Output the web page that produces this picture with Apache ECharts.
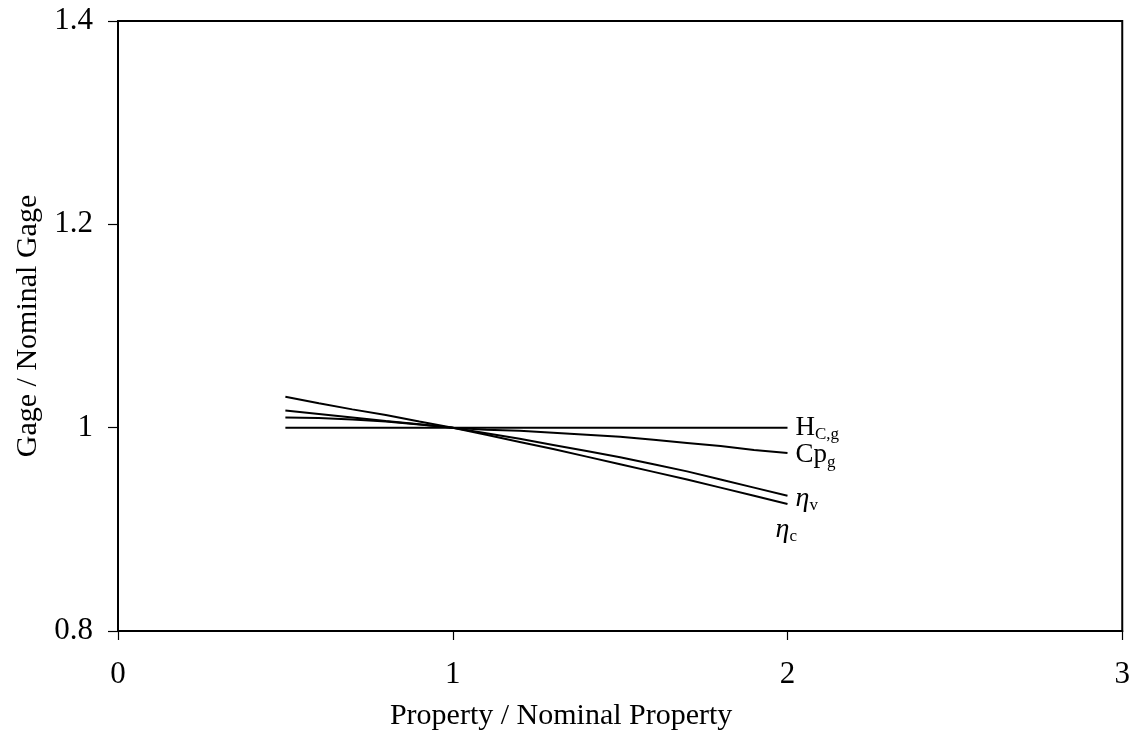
<!DOCTYPE html>
<html>
<head>
<meta charset="utf-8">
<title>Gage / Nominal Gage</title>
<script src="https://cdn.jsdelivr.net/npm/echarts@6/dist/echarts.min.js"></script>
<style>
  html, body { margin: 0; padding: 0; background: #fff; }
  #chart { width: 1133px; height: 744px; }
</style>
</head>
<body>
<div id="chart"></div>
<script>
// Property ratio sampled from 0.5 to 2.0
const propertyRatio = [0.5, 0.6, 0.7, 0.8, 0.9, 1.0, 1.1, 1.2, 1.3, 1.4, 1.5, 1.6, 1.7, 1.8, 1.9, 2.0];

// Gage ratio responses
const hcgRatio  = [1.000, 1.000, 1.000, 1.000, 1.000, 1.000, 1.000, 1.000, 1.000, 1.000, 1.000, 1.000, 1.000, 1.000, 1.000, 1.000];
const cpgRatio  = [1.010, 1.0095, 1.008, 1.006, 1.003, 1.000, 0.998, 0.997, 0.995, 0.993, 0.991, 0.988, 0.985, 0.982, 0.978, 0.975];
const etaVRatio = [1.017, 1.0135, 1.010, 1.0065, 1.0033, 1.000, 0.9945, 0.989, 0.983, 0.977, 0.971, 0.964, 0.957, 0.949, 0.941, 0.933];
const etaCRatio = [1.0305, 1.024, 1.018, 1.0125, 1.006, 1.000, 0.993, 0.986, 0.979, 0.9715, 0.964, 0.9565, 0.949, 0.941, 0.933, 0.925];

const xTicks = [0, 1, 2, 3];
const yTicks = [0.8, 1.0, 1.2, 1.4];

const FONT = '"Liberation Serif", "DejaVu Serif", serif';

function pairs(ys) {
  return propertyRatio.map((x, i) => [x, ys[i]]);
}

const labelRich = {
  main: { fontFamily: FONT, fontSize: 27, color: '#000' },
  it:   { fontFamily: FONT, fontSize: 28, color: '#000', fontStyle: 'italic' },
  sub:  { fontFamily: FONT, fontSize: 17, color: '#000', padding: [14, 0, 0, 0] }
};

function lineSeries(name, ys, labelText, offset) {
  return {
    name: name,
    type: 'line',
    data: pairs(ys),
    showSymbol: false,
    symbol: 'none',
    lineStyle: { color: '#000', width: 2 },
    silent: true,
    animation: false,
    endLabel: {
      show: true,
      formatter: () => labelText,
      rich: labelRich,
      distance: 8,
      offset: offset
    }
  };
}

const chart = echarts.init(document.getElementById('chart'), null, { renderer: 'canvas' });

chart.setOption({
  backgroundColor: '#fff',
  animation: false,
  grid: {
    left: 118, top: 21, right: 6, bottom: 113,
    show: true, borderColor: '#000', borderWidth: 2,
    backgroundColor: 'transparent'
  },
  xAxis: {
    type: 'value',
    min: xTicks[0], max: xTicks[xTicks.length - 1], interval: 1,
    name: 'Property / Nominal Property',
    nameLocation: 'middle',
    nameGap: 70,
    // title sits a little left of the plot centre
    nameTextStyle: { fontFamily: FONT, fontSize: 30, color: '#000', padding: [0, 118, 0, 0] },
    axisLine: { show: true, lineStyle: { color: '#000', width: 2 } },
    axisTick: { show: true, inside: false, length: 9, lineStyle: { color: '#000', width: 1.2 } },
    axisLabel: { fontFamily: FONT, fontSize: 31, color: '#000', margin: 28 },
    splitLine: { show: false }
  },
  yAxis: {
    type: 'value',
    min: yTicks[0], max: yTicks[yTicks.length - 1], interval: 0.2,
    name: 'Gage / Nominal Gage',
    nameLocation: 'middle',
    nameGap: 73,
    nameTextStyle: { fontFamily: FONT, fontSize: 30, color: '#000' },
    axisLine: { show: true, lineStyle: { color: '#000', width: 2 } },
    axisTick: { show: true, inside: false, length: 10, lineStyle: { color: '#000', width: 1.2 } },
    axisLabel: {
      fontFamily: FONT, fontSize: 31, color: '#000', margin: 25,
      formatter: v => String(Math.round(v * 10) / 10)
    },
    splitLine: { show: false }
  },
  series: [
    lineSeries('H_C,g', hcgRatio, '{main|H}{sub|C,g}', [0, 0]),
    lineSeries('Cp_g', cpgRatio, '{main|Cp}{sub|g}', [0, 2]),
    lineSeries('eta_v', etaVRatio, '{it|η}{sub|v}', [0, 3]),
    lineSeries('eta_c', etaCRatio, '{it|η}{sub|c}', [-20, 26])
  ]
});
</script>
</body>
</html>
